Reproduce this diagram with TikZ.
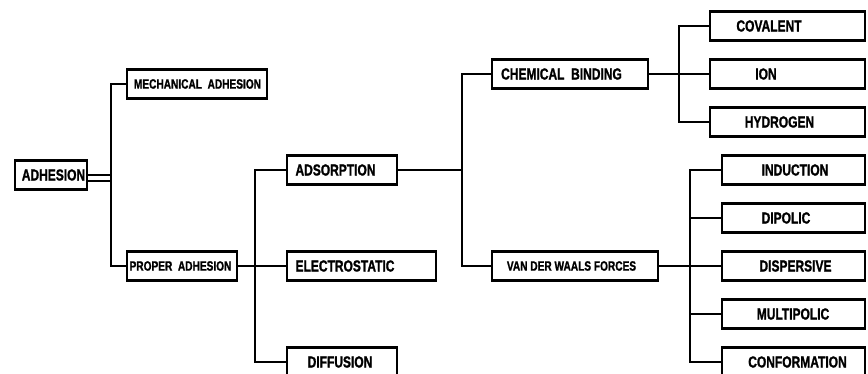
\documentclass[tikz,border=0pt]{standalone}
\usepackage{fontspec}
\newfontfamily\cadfont{Liberation Sans}[FakeStretch=0.75, BoldFeatures={FakeBold=1.2}]
\usepackage{tikz}
\usetikzlibrary{positioning, calc}
\newcommand{\smtxt}{\fontsize{13.5}{15}\selectfont}

\begin{document}
\begin{tikzpicture}[
      x=1pt, y=-1pt,
      font=\cadfont\bfseries\fontsize{16}{18}\selectfont,
      box/.style={draw, line width=2.2pt, minimum height=29pt, inner sep=0pt},
      txt/.style={inner sep=0pt},
      ln/.style={line width=2.2pt},
    ]
    \useasboundingbox (0,0) rectangle (868,374);
    % boxes: name/centre x/centre y/width/text x/text
    \foreach \n/\x/\y/\w/\t/\s in {
        adh/51/175/72/53.5/ADHESION,
        mech/197/84/140/197.5/{\smtxt MECHANICAL\ \ ADHESION},
        prop/182/266/110/180.5/{\smtxt PROPER\ \ ADHESION},
        ads/342/170/110/335.5/ADSORPTION,
        elec/361.5/266/149/345/ELECTROSTATIC,
        dif/342/362/110/340/DIFFUSION,
        chem/570/74/156/561.5/CHEMICAL\ \ BINDING,
        vdw/575/266/166/571.5/{\smtxt VAN\ DER\ WAALS\ FORCES},
        cov/787.5/26/155/769/COVALENT,
        ion/787.5/74/155/766/ION,
        hyd/787.5/122/155/779.5/HYDROGEN,
        ind/793.5/170/143/795/INDUCTION,
        dip/793.5/218/143/786/DIPOLIC,
        dis/793.5/266/143/795.5/DISPERSIVE,
        mul/793.5/314/143/793/MULTIPOLIC,
        con/793.5/362/143/797.5/CONFORMATION}
    {
      \node[box, minimum width=\w] (\n) at (\x,\y) {};
      \node[txt] (\n-t) at (\t,\y) {\s};
    }

    % junctions
    \coordinate (j1) at (111,175);
    \coordinate (j2) at (255,266);
    \coordinate (j3) at (462,170);
    \coordinate (j4) at (679,74);
    \coordinate (j5) at (690,266);

    % adhesion -> mechanical / proper
    \draw[ln] (adh.east) -- (j1);
    \draw[ln] ([yshift=-6pt]adh.east) -- ([yshift=-6pt]j1);
    \draw[ln] (mech.west) -| (j1) |- (prop.west);

    % proper adhesion -> adsorption / electrostatic / diffusion
    \draw[ln] (prop.east) -- (elec.west);
    \draw[ln] (ads.west) -| (j2) |- (dif.west);

    % adsorption -> chemical binding / van der waals
    \draw[ln] (ads.east) -- (j3);
    \draw[ln] (chem.west) -| (j3) |- (vdw.west);

    % chemical binding -> covalent / ion / hydrogen
    \draw[ln] (chem.east) -- (ion.west);
    \draw[ln] (cov.west) -| (j4) |- (hyd.west);

    % van der waals -> five kinds
    \draw[ln] (vdw.east) -- (dis.west);
    \draw[ln] (ind.west) -| (j5) |- (con.west);
    \draw[ln] (dip.west) -- (dip.west -| j5);
    \draw[ln] (mul.west) -- (mul.west -| j5);
\end{tikzpicture}
\end{document}
